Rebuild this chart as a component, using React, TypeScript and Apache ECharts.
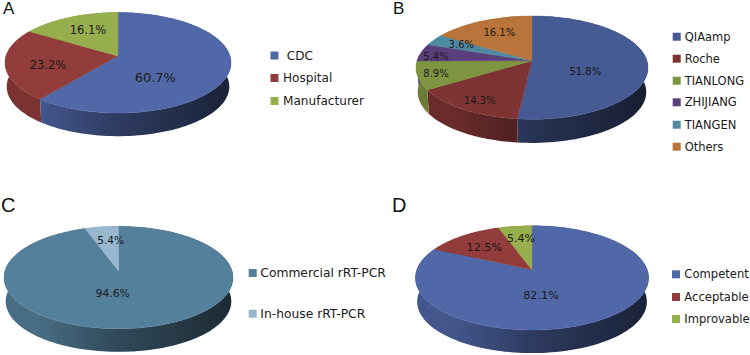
import React, { useEffect, useRef } from "react";
import * as echarts from "echarts";

const namesA = ["CDC", "Hospital", "Manufacturer"];
const valuesA = [60.7, 23.2, 16.1];
const colorsA = ["#5068a8", "#923d3b", "#97ae4c"];

const namesB = ["QIAamp", "Roche", "TIANLONG", "ZHIJIANG", "TIANGEN", "Others"];
const valuesB = [51.8, 14.3, 8.9, 5.4, 3.6, 16.1];
const colorsB = ["#465a94", "#7e3433", "#7e9440", "#5b3f7c", "#4f8aa2", "#b8743a"];

const namesC = ["Commercial rRT-PCR", "In-house rRT-PCR"];
const valuesC = [94.6, 5.4];
const colorsC = ["#55809c", "#98b8cf"];

const namesD = ["Competent", "Acceptable", "Improvable"];
const valuesD = [82.1, 12.5, 5.4];
const colorsD = ["#5068a8", "#923d3b", "#97ae4c"];

const PIES = [
  {
    letter: "A", letterX: 3, letterY: 17.2, letterSize: 17, names: namesA, values: valuesA, colors: colorsA,
    px: 118, py: 56, halfW: 113, up: 43.5, down: 57, depth: 24,
    labelSize: [13, 11.5, 11.5], labels: [[155.3, 77], [48, 65], [88, 30]],
    swatchX: 270.5, textX: 283, legendSize: 12.1, legendY: [55.5, 78, 101], legendNames: [" CDC", "Hospital", "Manufacturer"],
  },
  {
    letter: "B", letterX: 393, letterY: 17.2, letterSize: 17, names: namesB, values: valuesB, colors: colorsB,
    px: 532, py: 60.7, halfW: 116, up: 44.7, down: 58.6, depth: 24.5,
    labelSize: [10, 10, 10, 10, 10, 10], labels: [[585.3, 71], [479.7, 100], [436, 73], [436, 56.3], [461.3, 44.3], [499.3, 32.3]],
    swatchX: 672.7, textX: 684.7, legendSize: 11.5, legendY: [36.7, 58.7, 80.7, 102.3, 124.7, 146.7], legendNames: namesB,
  },
  {
    letter: "C", letterX: 1, letterY: 215, letterSize: 20, names: namesC, values: valuesC, colors: colorsC,
    px: 118.5, py: 270.7, halfW: 114.5, up: 44.4, down: 58, depth: 24,
    labelSize: [10.8, 10.6], labels: [[112.7, 293], [110.7, 240]],
    swatchX: 248.7, textX: 260.3, legendSize: 12.3, legendY: [273, 313.7], legendNames: namesC,
  },
  {
    letter: "D", letterX: 392, letterY: 215, letterSize: 20, names: namesD, values: valuesD, colors: colorsD,
    px: 532, py: 269.7, halfW: 116.6, up: 44, down: 60.3, depth: 24,
    labelSize: [11.2, 11.2, 11], labels: [[541, 295], [484.3, 247.7], [521, 238.3]],
    swatchX: 672, textX: 684.3, legendSize: 11.6, legendY: [274.3, 297, 319], legendNames: namesD,
  },
];

type Pie = (typeof PIES)[number];

const TEXT = "#1a1a1a";
const FONT = "'DejaVu Sans'";

function shade(hex: string, f: number) {
  const n = parseInt(hex.slice(1), 16);
  const c = [(n >> 16) & 255, (n >> 8) & 255, n & 255].map((v) => Math.round(v * f));
  return `rgb(${c[0]},${c[1]},${c[2]})`;
}

// perspective projection of the pie's disk onto the page
function projector(p: Pie) {
  const ratio = p.down / p.up;
  const k = (ratio - 1) / (ratio + 1);
  const S = p.up * (1 + k);
  const R = p.halfW * Math.sqrt(1 - k * k);
  return (angle: number, scale = 1, dy = 0) => {
    const u = Math.sin(angle);
    const v = Math.cos(angle);
    const w = 1 + k * v;
    return [p.px + (scale * R * u) / w, p.py + dy - (scale * S * v) / w];
  };
}

function sliceAngles(values: number[]) {
  const total = values.reduce((a, b) => a + b, 0);
  let acc = 0;
  return values.map((v) => {
    const a0 = (acc / total) * Math.PI * 2;
    acc += v;
    return [a0, (acc / total) * Math.PI * 2];
  });
}

function arc(project: (a: number, s?: number, d?: number) => number[], a0: number, a1: number, scale = 1, dy = 0) {
  const n = Math.max(4, Math.ceil(((a1 - a0) / (Math.PI * 2)) * 180));
  const pts: number[][] = [];
  for (let i = 0; i <= n; i++) pts.push(project(a0 + ((a1 - a0) * i) / n, scale, dy));
  return pts;
}

function pieSeries(p: Pie) {
  const project = projector(p);
  const angles = sliceAngles(p.values);
  const data = p.values.map((value, i) => ({ name: p.names[i], value }));
  const wall = {
    type: "custom",
    coordinateSystem: "none",
    silent: true,
    z: 1,
    data,
    renderItem: (params: any) => {
      const i = params.dataIndex;
      const [a0, a1] = angles[i];
      const top = arc(project, a0, a1);
      const bottom = arc(project, a0, a1, 0.985, p.depth).reverse();
      const left = p.px - p.halfW;
      const right = p.px + p.halfW;
      return {
        type: "polygon",
        shape: { points: top.concat(bottom) },
        style: {
          fill: new echarts.graphic.LinearGradient(
            left, 0, right, 0,
            [
              { offset: 0, color: shade(p.colors[i], 0.84) },
              { offset: 0.16, color: shade(p.colors[i], 0.84) },
              { offset: 0.5, color: shade(p.colors[i], 0.57) },
              { offset: 1, color: shade(p.colors[i], 0.33) },
            ],
            true,
          ),
        },
      };
    },
  };
  const top = {
    type: "custom",
    coordinateSystem: "none",
    silent: true,
    z: 2,
    data,
    renderItem: (params: any) => {
      const i = params.dataIndex;
      const [a0, a1] = angles[i];
      return {
        type: "polygon",
        shape: { points: [[p.px, p.py]].concat(arc(project, a0, a1)) },
        style: { fill: p.colors[i], stroke: p.colors[i], lineWidth: 0.4 },
      };
    },
  };
  const labels = {
    type: "custom",
    coordinateSystem: "none",
    silent: true,
    z: 3,
    data,
    renderItem: (params: any) => {
      const i = params.dataIndex;
      const [x, y] = p.labels[i];
      return {
        type: "text",
        style: {
          x, y,
          text: `${p.values[i].toFixed(1)}%`,
          fill: TEXT,
          fontFamily: FONT,
          fontSize: p.labelSize[i],
          align: "center",
          verticalAlign: "middle",
        },
      };
    },
  };
  return [wall, top, labels];
}

function pieGraphics(p: Pie) {
  const items: any[] = [
    {
      type: "text",
      x: p.letterX,
      y: p.letterY,
      style: {
        text: p.letter,
        fill: "#111111",
        fontFamily: "'Liberation Sans'",
        fontSize: p.letterSize,
        verticalAlign: "bottom",
        lineHeight: p.letterSize,
      },
    },
  ];
  p.legendNames.forEach((name, i) => {
    items.push({
      type: "rect",
      shape: { x: p.swatchX, y: p.legendY[i] - 4, width: 8, height: 8 },
      style: { fill: p.colors[i] },
    });
    items.push({
      type: "text",
      x: p.textX,
      y: p.legendY[i],
      style: {
        text: name,
        fill: TEXT,
        fontFamily: FONT,
        fontSize: p.legendSize,
        verticalAlign: "middle",
      },
    });
  });
  return items;
}

export default function App() {
  const ref = useRef<HTMLDivElement>(null);
  useEffect(() => {
    document.body.style.margin = "0";
    const chart = echarts.init(ref.current!, undefined, { renderer: "svg" });
    chart.setOption({
      animation: false,
      backgroundColor: "#ffffff",
      series: PIES.flatMap(pieSeries),
      graphic: { elements: PIES.flatMap(pieGraphics) },
    });
    return () => chart.dispose();
  }, []);
  return <div ref={ref} style={{ width: 750, height: 355 }} />;
}
